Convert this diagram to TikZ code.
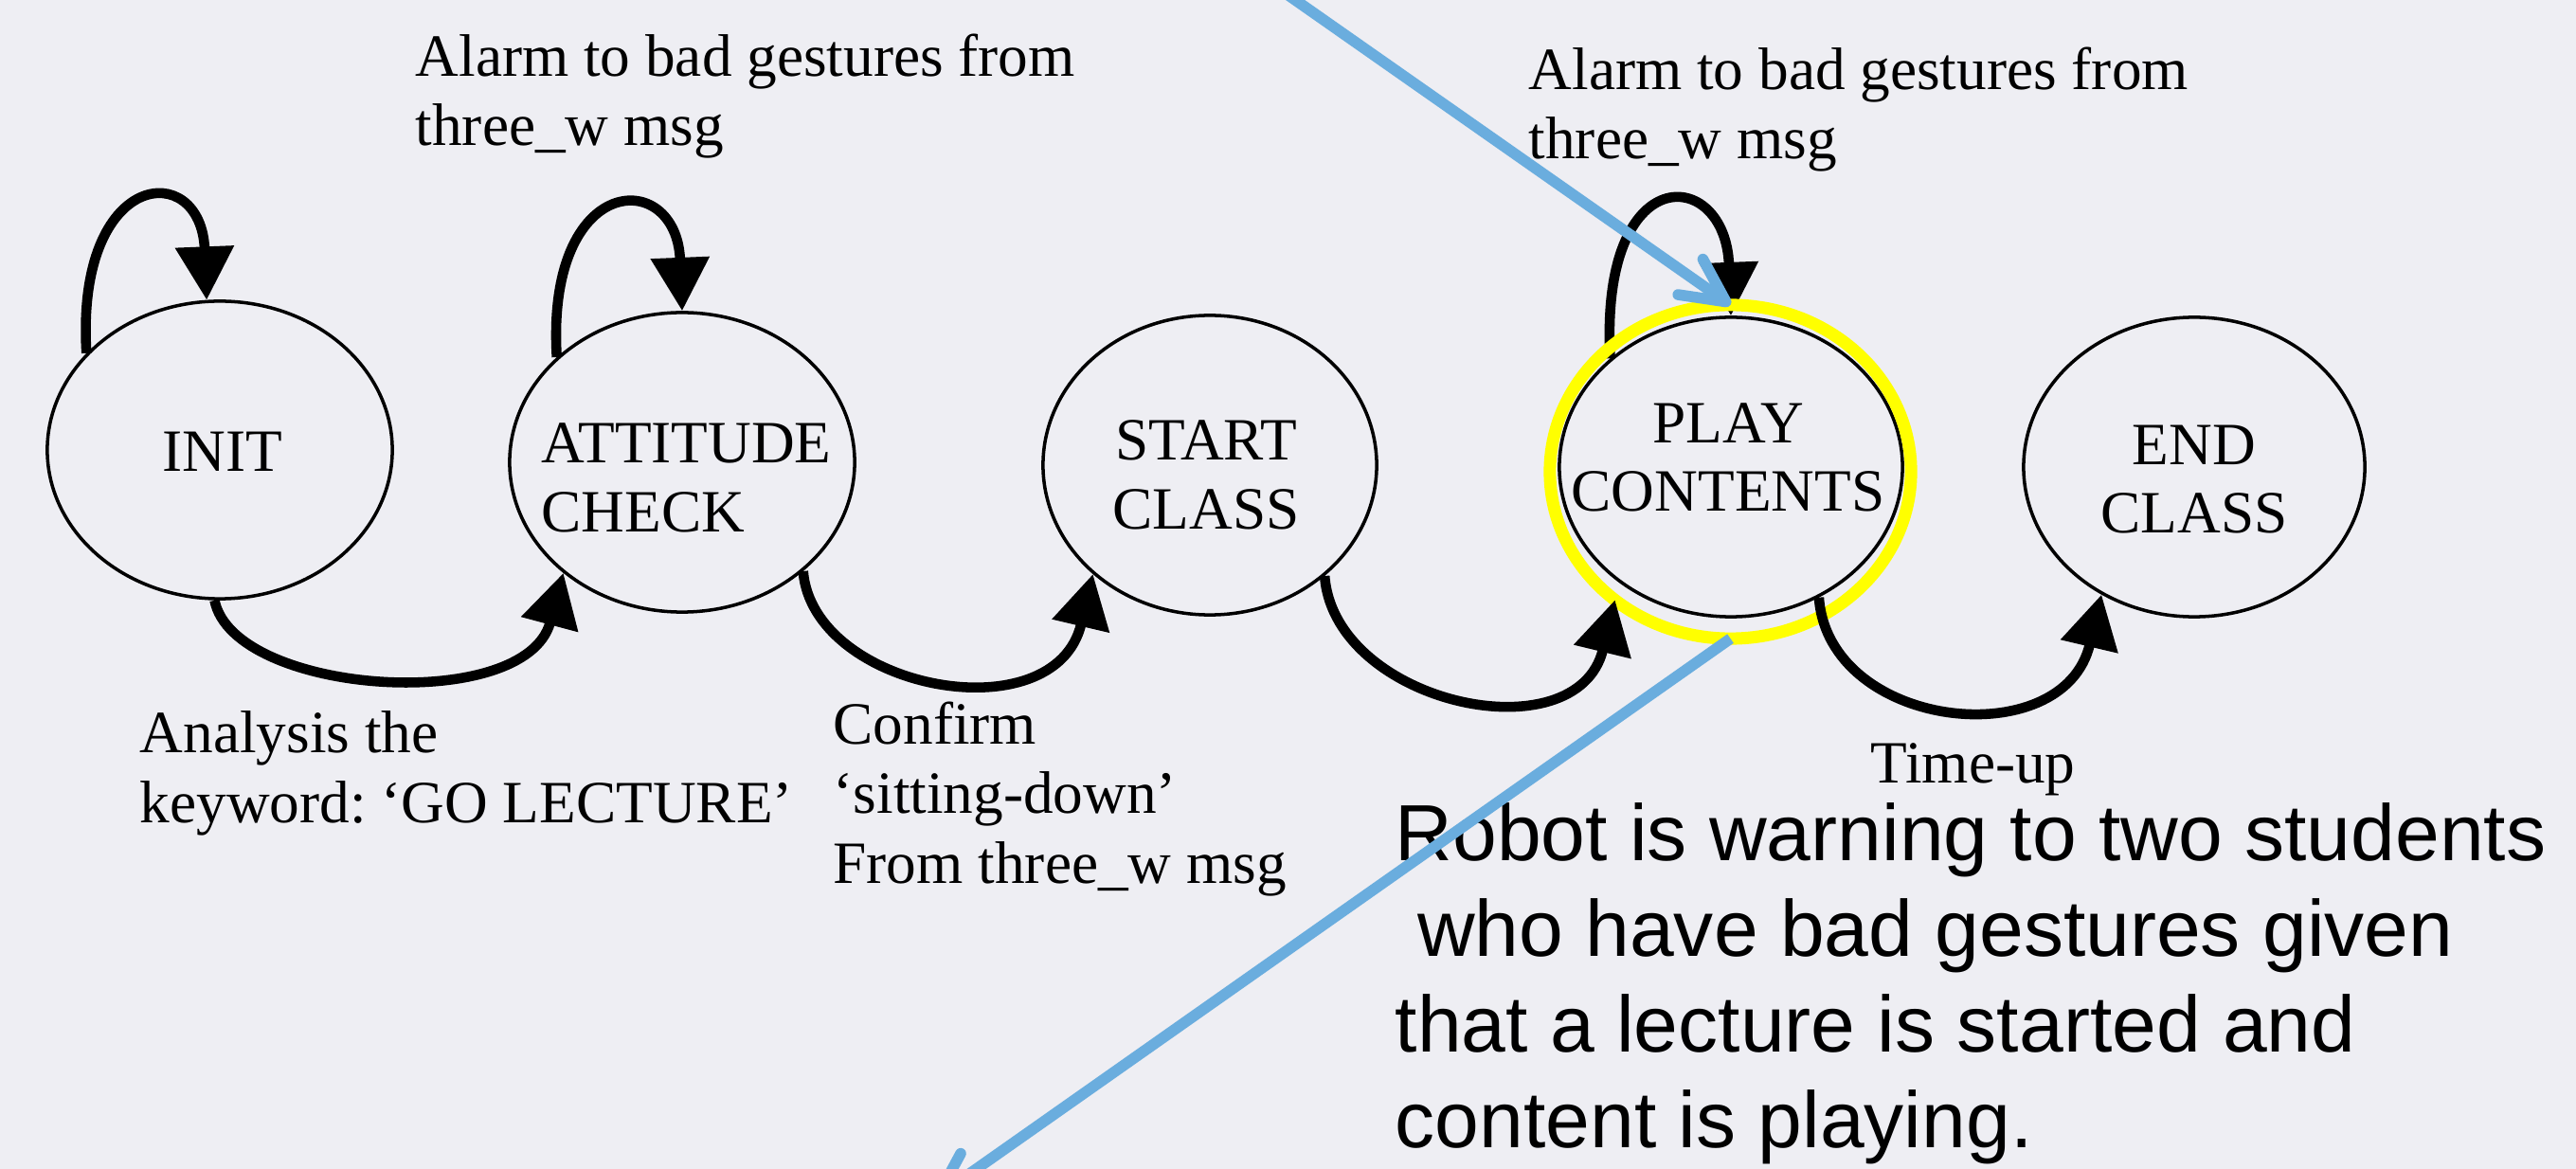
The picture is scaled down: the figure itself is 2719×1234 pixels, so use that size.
\documentclass[tikz,border=0pt]{standalone}
\usepackage{fontspec}
\setmainfont{Liberation Serif}
\newfontfamily\notefont{Liberation Sans}
\usetikzlibrary{arrows.meta,shapes.geometric}
\frenchspacing

\definecolor{bgcol}{RGB}{238,238,243}
\definecolor{calloutblue}{RGB}{106,173,222}
\definecolor{hiyellow}{RGB}{255,255,0}

\begin{document}
\begin{tikzpicture}[x=0.01cm,y=-0.01cm,
  state/.style={ellipse, draw=black, line width=1pt, inner sep=0pt,
    minimum width=3.62cm, minimum height=3.16cm},
  stxt/.style={inner sep=0pt, font=\fontsize{18}{20.5}\selectfont,
    align=center, anchor=base},
  lbl/.style={inner sep=0pt, font=\fontsize{18}{20.8}\selectfont,
    align=left, anchor=base west},
  note/.style={inner sep=0pt, font=\notefont\fontsize{23.9}{28.7}\selectfont,
    align=left, anchor=base west},
  trans/.style={line width=3pt, -{Triangle[length=16pt,width=17pt]}},
  hilite/.style={ellipse, draw=hiyellow, line width=3.7pt, inner sep=0pt,
    outer sep=0pt, minimum width=3.81cm, minimum height=3.52cm},
  pointer/.style={draw=calloutblue, line width=3.3pt,
    -{Straight Barb[length=13pt,width=13pt,round]}}
]
\useasboundingbox (0,0) rectangle (2719,1234);
\clip (0,0) rectangle (2719,1234);
\fill[bgcol] (0,0) rectangle (2719,1234);

% states (multi-line texts are placed by the baseline of their last line)
\node[state, minimum width=3.64cm, minimum height=3.14cm] (init) at (232,475) {};
\node[state, minimum width=3.64cm] (att) at (720,488) {};
\node[state, minimum width=3.52cm] (start) at (1277,491) {};
\node[state] (play) at (1827,493) {};
\node[state, minimum width=3.60cm] (endcls) at (2316,493) {};

\node[stxt] (init-t) at (235,498) {INIT};
\node[stxt, align=left, anchor=base west] (att-t) at (571,561) {ATTITUDE\\CHECK};
\node[stxt] (start-t) at (1273,558) {START\\CLASS};
\node[stxt] (play-t) at (1824,540) {PLAY\\CONTENTS};
\node[stxt] (endcls-t) at (2316,563) {END\\CLASS};

% self loops
\draw[trans] (init.144) .. controls +(-12,-195) and +(-6,-150) .. (init.95);
\draw[trans] (att.140) .. controls +(-12,-196) and +(-6,-152) .. (att.90);
\draw[trans] (play.138.5) .. controls +(-12,-212) and +(-6,-158) .. (play.90);

% highlight ring round the current state
\node[hilite] (hl) at (1826.5,498) {};

% transitions
\draw[trans] (init.268) .. controls +(20,100) and +(-40,150) .. (att.223);
\draw[trans] (att.-42) .. controls +(10,125) and +(-40,170) .. (start.223);
\draw[trans] (start.-44) .. controls +(10,135) and +(-40,165) .. (hl.228);
\draw[trans] (play.-56) .. controls +(10,140) and +(-40,170) .. (endcls.234);

% edge labels
\node[lbl] (alarmA) at (438,154) {Alarm to bad gestures from\\three\_w msg};
\node[lbl] (alarmB) at (1613,168) {Alarm to bad gestures from\\three\_w msg};
\node[lbl] (analysis) at (147,868) {Analysis the\\keyword: ‘GO LECTURE’};
\node[lbl] (confirm) at (879,932) {Confirm\\‘sitting-down’\\From three\_w msg};
\node[lbl] (timeup) at (1974,826) {Time-up};

% remark
\node[note] (remark) at (1472,1211) {Robot is warning to two students\\
  \hspace*{.278em}who have bad gestures given\\
  that a lecture is started and\\
  content is playing.};

% callout pointers
\coordinate (ptrfrom) at (1310,-40);
\coordinate (ptrto) at (985,1266);
\draw[pointer] (ptrfrom) -- (hl.north);
\draw[pointer] (hl.south) -- (ptrto);
\end{tikzpicture}
\end{document}
